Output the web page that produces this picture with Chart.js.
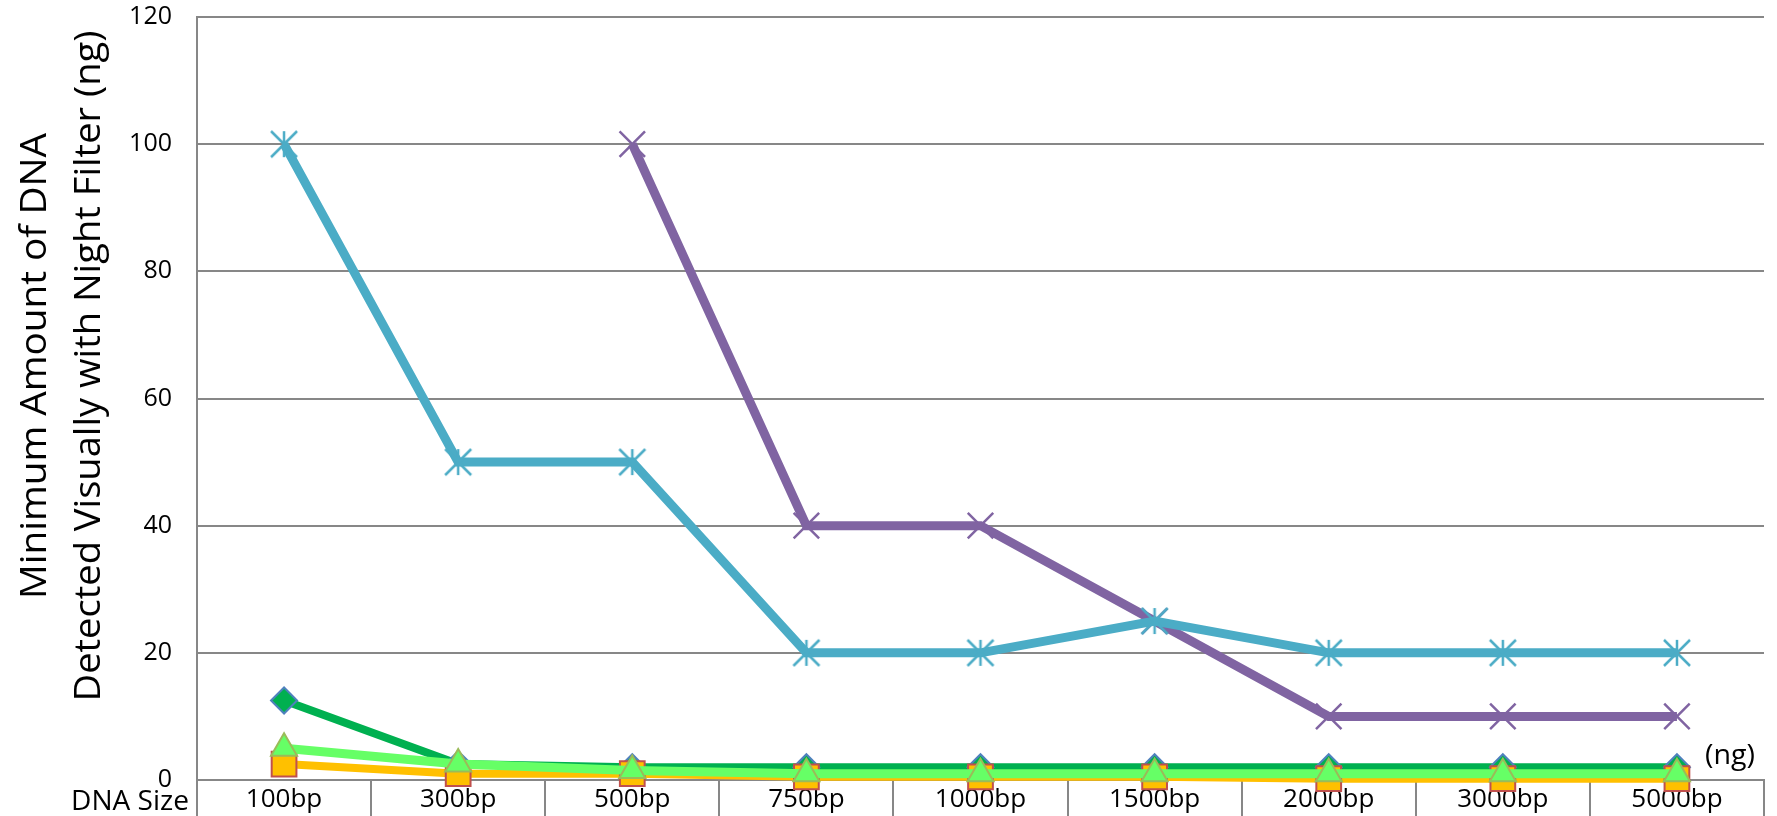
<!DOCTYPE html>
<html>
<head>
<meta charset="utf-8">
<script src="https://cdn.jsdelivr.net/npm/chart.js@4.4.1/dist/chart.umd.min.js"></script>
<style>
  html, body { margin: 0; padding: 0; background: #fff; }
  #wrap { width: 1777px; height: 816px; }
</style>
</head>
<body>
<div id="wrap"><canvas id="lineChart" width="1777" height="816"></canvas></div>
<script>
// categories and series
var labels = ['100bp', '300bp', '500bp', '750bp', '1000bp', '1500bp', '2000bp', '3000bp', '5000bp'];
var cyanData = [100, 50, 50, 20, 20, 25, 20, 20, 20];
var purpleData = [null, null, 100, 40, 40, 25, 10, 10, 10];
var greenData = [12.5, 2.5, 2, 2, 2, 2, 2, 2, 2];
var orangeData = [2.5, 1, 1, 0.5, 0.5, 0.5, 0.2, 0.2, 0.2];
var lightGreenData = [5, 2.5, 1.5, 1, 1, 1, 1, 1, 1];
var yTitle = ['Minimum Amount of DNA', 'Detected Visually with Night Filter (ng)'];

var gridColor = '#878787';
var fontFamily = "'Open Sans', 'Noto Sans', sans-serif";

// asterisk marker (x plus vertical bar)
function asterisk(color, size) {
    var c = document.createElement('canvas');
    c.width = size + 4;
    c.height = size + 4;
    var g = c.getContext('2d');
    var m = c.width / 2, h = size / 2;
    g.strokeStyle = color;
    g.lineWidth = 2.5;
    g.beginPath();
    g.moveTo(m, m - h); g.lineTo(m, m + h);
    g.moveTo(m - h, m - h); g.lineTo(m + h, m + h);
    g.moveTo(m + h, m - h); g.lineTo(m - h, m + h);
    g.stroke();
    return c;
}

// text squeezed to a given length (the original font is narrower)
function fitText(ctx, text, x, y, len, align) {
    var w = ctx.measureText(text).width;
    var k = len / w;
    ctx.save();
    ctx.translate(x, y);
    ctx.scale(k, 1);
    ctx.textAlign = align;
    ctx.fillText(text, 0, 0);
    ctx.restore();
}

var extraText = {
    id: 'extraText',
    afterDraw: function(chart) {
        var ctx = chart.ctx;
        ctx.save();
        ctx.fillStyle = '#000';
        ctx.textBaseline = 'alphabetic';
        // rotated y title, two lines
        ctx.save();
        ctx.translate(0, 366);
        ctx.rotate(-Math.PI / 2);
        ctx.font = '37px ' + fontFamily;
        fitText(ctx, yTitle[0], 0, 46, 466, 'center');
        fitText(ctx, yTitle[1], 0, 100, 671, 'center');
        ctx.restore();
        ctx.font = '28px ' + fontFamily;
        fitText(ctx, 'DNA Size', 189, 810, 118, 'right');
        fitText(ctx, '(ng)', 1705, 764, 50, 'left');
        ctx.restore();
    }
};

var ctx = document.getElementById('lineChart').getContext('2d');

var chartData = {
    labels: labels,
    datasets: [{
        label: 'cyan',
        data: cyanData,
        borderColor: '#4BACC6',
        borderWidth: 9,
        pointStyle: asterisk('#4BACC6', 26),
        pointRadius: 13,
        clip: false
    }, {
        label: 'purple',
        data: purpleData,
        borderColor: '#8064A2',
        borderWidth: 9,
        pointStyle: 'crossRot',
        pointRadius: 18,
        pointBorderWidth: 2.5,
        pointBorderColor: '#8064A2',
        clip: false
    }, {
        label: 'light green',
        data: lightGreenData,
        borderColor: '#66FF66',
        borderWidth: 9,
        pointStyle: 'triangle',
        pointRadius: 15,
        pointBackgroundColor: '#66FF66',
        pointBorderColor: '#9BBB59',
        pointBorderWidth: 2,
        clip: false
    }, {
        label: 'orange',
        data: orangeData,
        borderColor: '#FFC000',
        borderWidth: 8,
        pointStyle: 'rect',
        pointRadius: 17.5,
        pointBackgroundColor: '#FFC000',
        pointBorderColor: '#C0504D',
        pointBorderWidth: 2,
        clip: false
    }, {
        label: 'green',
        data: greenData,
        borderColor: '#00B050',
        borderWidth: 8,
        pointStyle: 'rectRot',
        pointRadius: 13,
        pointBackgroundColor: '#00B050',
        pointBorderColor: '#4F81BD',
        pointBorderWidth: 2,
        clip: false
    }]
};

var chartOptions = {
    responsive: false,
    animation: false,
    devicePixelRatio: 1,
    layout: { autoPadding: false, padding: { left: 0, top: 17, right: 13, bottom: 0 } },
    plugins: {
        legend: { display: false },
        tooltip: { enabled: false }
    },
    elements: { line: { tension: 0 } },
    scales: {
        x: {
            type: 'category',
            offset: true,
            grid: {
                offset: true,
                drawOnChartArea: false,
                drawTicks: true,
                tickLength: 38,
                color: gridColor,
                lineWidth: 2
            },
            border: { display: true, color: gridColor, width: 2 },
            ticks: {
                color: '#000',
                font: { family: fontFamily, size: 26 },
                padding: -34,
                maxRotation: 0,
                autoSkip: false
            },
            afterFit: function(scale) { scale.height = 36; }
        },
        y: {
            min: 0,
            max: 120,
            // invisible tick marks keep the labels off the axis without padding the top
            grid: { color: gridColor, lineWidth: 2, drawTicks: true, tickLength: 25, tickColor: 'rgba(0,0,0,0)' },
            border: { display: true, color: gridColor, width: 2 },
            ticks: {
                stepSize: 20,
                color: '#000',
                padding: 0,
                font: { family: fontFamily, size: 25 }
            },
            afterFit: function(scale) { scale.width = 197; }
        }
    }
};

var lineChart = new Chart(ctx, {
    type: 'line',
    data: chartData,
    options: chartOptions,
    plugins: [extraText]
});
</script>
</body>
</html>
